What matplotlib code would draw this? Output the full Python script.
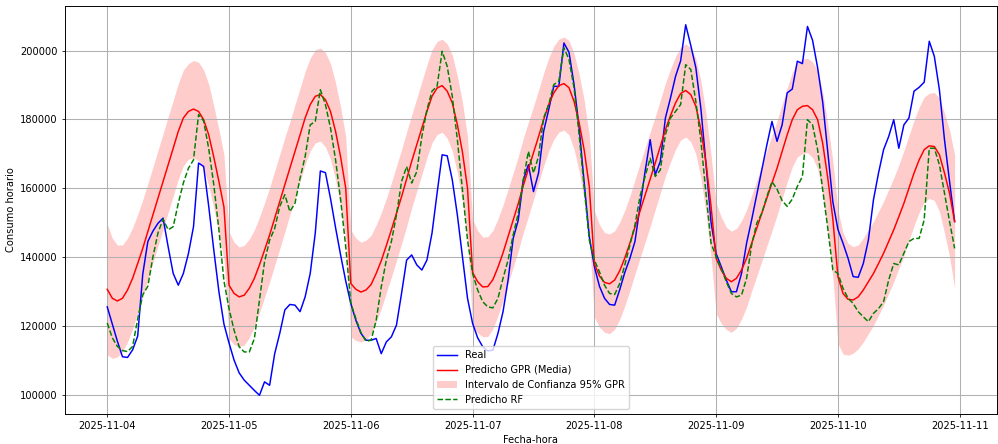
import matplotlib
matplotlib.use("Agg")
import matplotlib.pyplot as plt
import numpy as np
import pandas as pd

# Hourly timestamps, 2025-11-04 00:00 .. 2025-11-10 23:00
fechas = pd.date_range("2025-11-04 00:00", periods=168, freq="h")

# Observed hourly consumption
real = [
    125500, 120500, 115500, 111000, 110800, 113000, 117000, 135000, 144500, 147500, 149800, 151300,
    143000, 135200, 131800, 135200, 141000, 148800, 167300, 166300, 154700, 142000, 130000, 120500,
    115000, 110000, 106300, 104200, 102700, 101200, 99800, 103700, 102700, 111900, 117800, 124600,
    126200, 126000, 124100, 128400, 135200, 147000, 165000, 164500, 157000, 148500, 140500, 133000,
    126500, 121600, 117800, 115800, 115800, 116300, 111900, 115300, 116800, 120200, 129400, 139100,
    140600, 137700, 136200, 139100, 146900, 158500, 169700, 169400, 162400, 152200, 140100, 128000,
    120700, 116500, 113900, 112700, 112900, 117800, 124100, 133300, 145400, 150700, 162400, 166800,
    159000, 164400, 176500, 182800, 189600, 189600, 202200, 199500, 190100, 177500, 161500, 145900,
    137200, 131500, 128000, 126200, 126000, 130500, 135500, 139600, 144500, 154700, 164900, 174100,
    163900, 167800, 180400, 186200, 192500, 197000, 207500, 201500, 195000, 183000, 167000, 150000,
    141000, 137200, 133300, 129900, 129900, 135200, 144000, 150800, 158100, 165300, 172600, 179400,
    173600, 178400, 187700, 188800, 196900, 196200, 207000, 203000, 195000, 185000, 170500, 156000,
    148000, 144000, 139600, 134300, 134100, 138100, 144900, 156600, 164400, 171200, 175000, 179900,
    171600, 178400, 180400, 188200, 189300, 190800, 202700, 198300, 188600, 174100, 161900, 150300,
]

# Gaussian process regression: predictive mean
gpr_media = [
    130600, 128000, 127200, 128000, 130400, 133800, 138100, 142500, 147400, 152200, 157100, 161900,
    166800, 171600, 176500, 180400, 182300, 183000, 182300, 179900, 175500, 169000, 162000, 154500,
    131800, 129400, 128400, 128900, 130900, 133800, 137700, 142000, 146400, 151300, 156100, 161000,
    165800, 170700, 175500, 180400, 184300, 186700, 187200, 185700, 182300, 176500, 169000, 160000,
    132300, 130600, 129800, 130400, 132000, 135200, 138900, 143300, 147900, 152700, 157500, 162600,
    167800, 172600, 177500, 182300, 186700, 189100, 189800, 188200, 184800, 178500, 170500, 160000,
    135500, 132800, 131300, 131400, 133400, 137000, 141200, 146000, 150700, 155500, 160800, 165500,
    170200, 175000, 179900, 184300, 187700, 189800, 190400, 189200, 185200, 179000, 171000, 160500,
    138000, 134500, 132600, 132200, 133300, 136000, 139700, 144000, 148700, 153400, 158000, 162600,
    167300, 172100, 177000, 181100, 184800, 187500, 188400, 187200, 183800, 177000, 167300, 154700,
    139600, 136200, 133800, 132800, 133800, 136200, 139600, 144000, 148300, 152700, 157100, 161500,
    165800, 170700, 175500, 179900, 182800, 183800, 184000, 182800, 179900, 173000, 163000, 151000,
    134300, 129400, 127700, 127500, 128400, 130400, 132800, 135200, 138100, 141100, 144500, 147900,
    151700, 155600, 160000, 164400, 168200, 171200, 172300, 172100, 169700, 164400, 158500, 150300,
]

# Gaussian process regression: predictive standard deviation
gpr_std = [
    9700, 8900, 8300, 7900, 7700, 7500, 7300, 7200, 7100, 7100, 7100, 7100,
    7100, 7100, 7100, 7100, 7100, 7200, 7300, 7400, 7500, 7600, 7700, 7800,
    7900, 7600, 7400, 7400, 7300, 7200, 7100, 7000, 7000, 7000, 7000, 7000,
    6900, 6900, 6900, 6900, 6900, 6900, 6900, 7000, 7100, 7200, 7400, 7600,
    7900, 7600, 7400, 7400, 7300, 7200, 7100, 7000, 7000, 7000, 7000, 7000,
    6900, 6900, 6900, 6900, 6900, 6900, 6900, 7000, 7100, 7200, 7400, 7600,
    7900, 7600, 7400, 7400, 7300, 7200, 7100, 7000, 7000, 7000, 7000, 7000,
    6900, 6900, 6900, 6900, 6900, 6900, 6900, 7000, 7100, 7200, 7400, 7600,
    7900, 7600, 7400, 7400, 7300, 7200, 7100, 7000, 7000, 7000, 7000, 7000,
    6900, 6900, 6900, 6900, 6900, 6900, 6900, 7000, 7100, 7200, 7400, 7600,
    8200, 7900, 7600, 7500, 7400, 7300, 7200, 7100, 7100, 7100, 7100, 7100,
    7000, 7000, 7000, 7000, 7000, 7000, 7000, 7100, 7300, 7600, 8000, 8600,
    9900, 9000, 8300, 7900, 7700, 7700, 7700, 7700, 7700, 7700, 7700, 7700,
    7700, 7800, 7800, 7800, 7800, 7800, 7800, 8000, 8400, 8900, 9400, 9900,
]

# Random forest prediction
rf = [
    120800, 116500, 114000, 112800, 112500, 114000, 122000, 129000, 131500, 140000, 147000, 151000,
    147900, 148800, 155600, 161500, 165800, 168200, 181400, 179500, 171500, 161000, 148000, 133000,
    125000, 118700, 113900, 112400, 112400, 116300, 127500, 138600, 144900, 148300, 154700, 158100,
    153200, 155600, 162900, 169200, 178400, 179400, 188600, 184300, 177500, 168200, 156600, 143000,
    126500, 122100, 118000, 115500, 115800, 121600, 131300, 139100, 144500, 152200, 161900, 166300,
    161500, 164800, 175000, 182800, 188200, 189600, 199800, 195400, 186700, 174100, 159500, 144900,
    135200, 130400, 127000, 125500, 125200, 128000, 133800, 139100, 146400, 152700, 162400, 170700,
    164400, 169200, 180400, 184300, 190100, 191100, 200800, 197400, 189100, 175500, 160000, 144900,
    139100, 135700, 131800, 129400, 129100, 132300, 137700, 143500, 149300, 157600, 163400, 168700,
    163400, 165300, 175500, 180400, 182300, 184300, 195900, 194500, 185200, 173600, 158500, 144000,
    140100, 136700, 132800, 129400, 128400, 128900, 133800, 143500, 149800, 152700, 157600, 161900,
    159700, 156400, 154700, 156800, 160500, 163400, 179900, 178400, 171200, 159500, 148300, 136200,
    135200, 130900, 128000, 126500, 124100, 122600, 121200, 123600, 125000, 127000, 133300, 138100,
    137700, 141100, 144500, 145400, 145400, 150800, 171600, 171600, 166800, 158500, 150300, 142500,
]

# Sizes scaled to a compact figure
k = 0.713
plt.rcParams.update({
    "font.family": "DejaVu Sans",
    "font.size": 10 * k,
    "xtick.major.size": 3.5 * k,
    "ytick.major.size": 3.5 * k,
    "xtick.major.width": 0.8 * k,
    "ytick.major.width": 0.8 * k,
    "xtick.major.pad": 3.5 * k,
    "ytick.major.pad": 3.5 * k,
    "axes.labelpad": 4.0 * k,
    "axes.linewidth": 0.8 * k * 1.2,
})

media = np.array(gpr_media, dtype=float)
std = np.array(gpr_std, dtype=float)

fig, ax = plt.subplots(figsize=(9.98, 4.44), dpi=100)
lw = 1.5 * k
ax.plot(fechas, real, color="blue", lw=lw, label="Real")
ax.plot(fechas, media, color="red", lw=lw, label="Predicho GPR (Media)")
ax.fill_between(fechas, media - 1.96 * std, media + 1.96 * std, color="red",
                alpha=0.2, lw=0, label="Intervalo de Confianza 95% GPR")
ax.plot(fechas, rf, color="green", ls="--", lw=lw, label="Predicho RF")

ax.set_xlabel("Fecha-hora")
ax.set_ylabel("Consumo horario")
ax.grid(True, lw=0.8 * k * 1.3)
ax.legend(loc="lower center")

fig.subplots_adjust(left=0.065, right=0.999, bottom=0.068, top=0.986)
fig.savefig("out.png", dpi=100)
